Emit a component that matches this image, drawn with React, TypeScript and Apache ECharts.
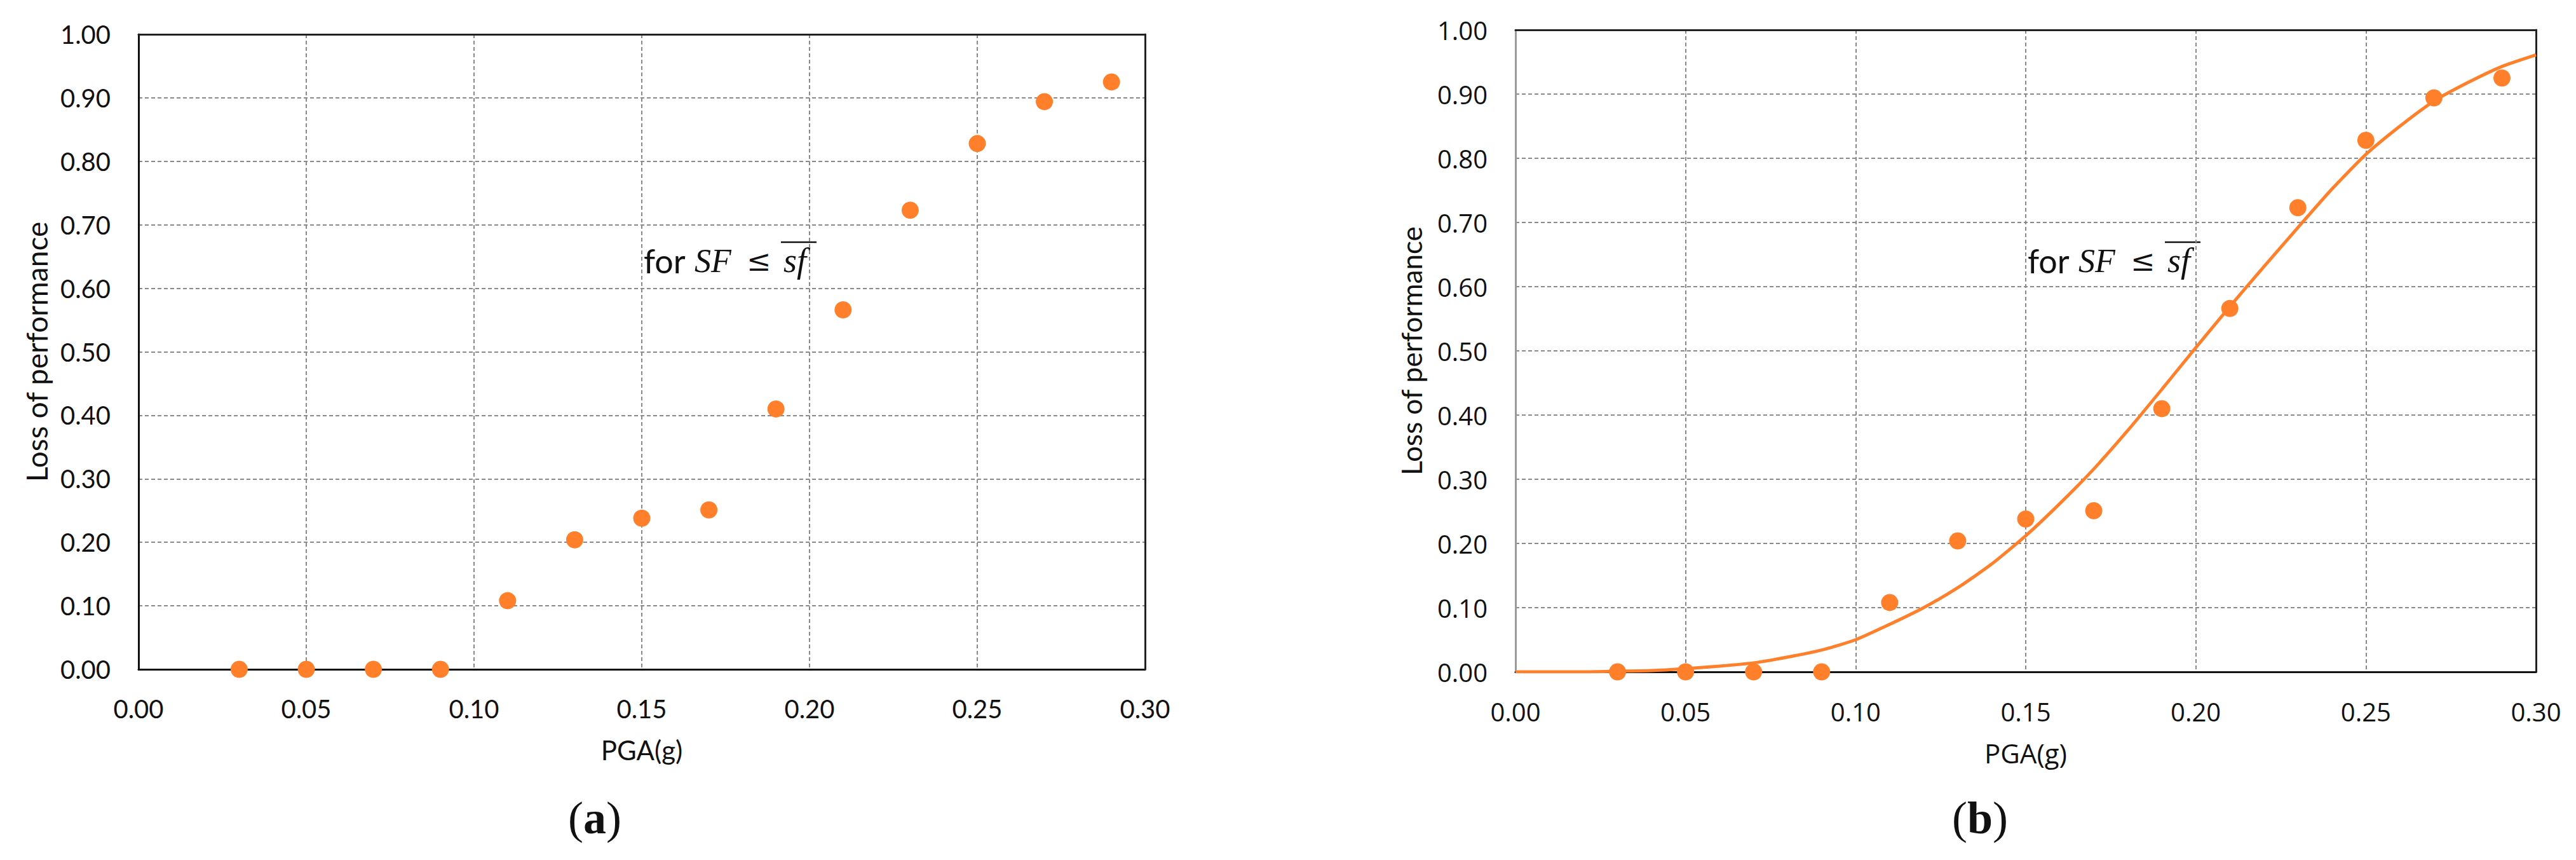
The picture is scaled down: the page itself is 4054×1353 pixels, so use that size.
import React, { useEffect, useRef } from "react";
import * as echarts from "echarts";

// Observed points (PGA in g, loss of performance)
const pga = [0.03, 0.05, 0.07, 0.09, 0.11, 0.13, 0.15, 0.17, 0.19, 0.21, 0.23, 0.25, 0.27, 0.29];
const lossOfPerformance = [0, 0, 0, 0, 0.108, 0.204, 0.238, 0.251, 0.41, 0.566, 0.723, 0.828, 0.894, 0.925];

// Fitted curve in panel (b)
const fitPga = [0, 0.01, 0.02, 0.03, 0.04, 0.05, 0.06, 0.07, 0.08, 0.09, 0.1, 0.11, 0.12, 0.13, 0.14, 0.15, 0.16, 0.17, 0.18, 0.19, 0.2, 0.21, 0.22, 0.23, 0.24, 0.25, 0.26, 0.27, 0.28, 0.29, 0.3];
const fitLoss = [0, 0, 0, 0.001, 0.002, 0.005, 0.009, 0.014, 0.023, 0.034, 0.05, 0.074, 0.1, 0.131, 0.168, 0.212, 0.262, 0.316, 0.376, 0.44, 0.505, 0.569, 0.631, 0.692, 0.752, 0.806, 0.85, 0.889, 0.918, 0.943, 0.961];

const xTickLabels = ["0.00", "0.05", "0.10", "0.15", "0.20", "0.25", "0.30"];
const yTickLabels = ["0.00", "0.10", "0.20", "0.30", "0.40", "0.50", "0.60", "0.70", "0.80", "0.90", "1.00"];

const ORANGE = "#FF7F2A";
const TXT = "#111111";

function xLabel(v: number) {
  return xTickLabels[Math.round(v / 0.05)] ?? "";
}
function yLabel(v: number) {
  return yTickLabels[Math.round(v * 10)] ?? "";
}

function mainX(gridIndex: number, font: string, nameFont: string, lineColor: string) {
  return {
    gridIndex,
    type: "value",
    min: 0,
    max: 0.3,
    interval: 0.05,
    name: "PGA(g)",
    nameLocation: "middle",
    nameGap: 106,
    nameTextStyle: { fontFamily: nameFont, fontSize: 42, color: TXT },
    axisLine: { show: true, onZero: false, lineStyle: { color: lineColor, width: 3 } },
    axisTick: { show: false },
    axisLabel: { fontFamily: font, fontSize: 40, color: TXT, margin: 42, formatter: xLabel },
    splitLine: { show: true, lineStyle: { color: "#8a8a8a", width: 2, type: [6, 4] } },
  };
}

function mainY(gridIndex: number, font: string, nameFont: string, nameSize: number, nameGap: number, lineColor: string) {
  return {
    gridIndex,
    type: "value",
    min: 0,
    max: 1,
    interval: 0.1,
    name: "Loss of performance",
    nameLocation: "middle",
    nameRotate: 90,
    nameGap,
    nameTextStyle: { fontFamily: nameFont, fontSize: nameSize, color: TXT },
    axisLine: { show: true, onZero: false, lineStyle: { color: lineColor, width: 3 } },
    axisTick: { show: false },
    axisLabel: { fontFamily: font, fontSize: 40, color: TXT, margin: 44, formatter: yLabel },
    splitLine: { show: true, lineStyle: { color: "#8a8a8a", width: 2, type: [6, 4] } },
  };
}

function borderX(gridIndex: number) {
  return {
    gridIndex,
    type: "value",
    position: "top",
    min: 0,
    max: 0.3,
    z: 1,
    axisLine: { show: true, onZero: false, lineStyle: { color: "#222", width: 3 } },
    axisTick: { show: false },
    axisLabel: { show: false },
    splitLine: { show: false },
  };
}

function borderY(gridIndex: number) {
  return {
    gridIndex,
    type: "value",
    position: "right",
    min: 0,
    max: 1,
    z: 1,
    axisLine: { show: true, onZero: false, lineStyle: { color: "#222", width: 3 } },
    axisTick: { show: false },
    axisLabel: { show: false },
    splitLine: { show: false },
  };
}

function annotation(x0: number) {
  const y = 410;
  return {
    type: "group",
    children: [
      { type: "text", x: x0, y, style: { text: "for", font: "52px Lato", fill: TXT, textVerticalAlign: "middle" } },
      { type: "text", x: x0 + 80, y, style: { text: "SF", font: "italic 52px 'Liberation Serif'", fill: TXT, textVerticalAlign: "middle" } },
      { type: "text", x: x0 + 162, y, style: { text: "≤", font: "46px 'DejaVu Serif'", fill: TXT, textVerticalAlign: "middle" } },
      { type: "text", x: x0 + 220, y, style: { text: "sf", font: "italic 54px 'Liberation Serif'", fill: TXT, textVerticalAlign: "middle" } },
      { type: "line", shape: { x1: x0 + 216, y1: 381, x2: x0 + 272, y2: 381 }, style: { stroke: TXT, lineWidth: 2.5 } },
    ],
  };
}

function panelLabel(letter: string, cx: number) {
  return {
    type: "text",
    x: cx,
    y: 1287,
    style: {
      text: `{p|(}{b|${letter}}{p|)}`,
      textAlign: "center",
      textVerticalAlign: "middle",
      rich: {
        p: { fontFamily: "Liberation Serif", fontSize: 72, fill: TXT, color: TXT },
        b: { fontFamily: "Liberation Serif", fontSize: 72, fontWeight: "bold", fill: TXT, color: TXT },
      },
    },
  };
}

export default function App() {
  const ref = useRef<HTMLDivElement>(null);

  useEffect(() => {
    if (!ref.current) return;
    const chart = echarts.init(ref.current, null, { renderer: "svg" });
    const points = pga.map((x, i) => [x, lossOfPerformance[i]]);
    const fit = fitPga.map((x, i) => [x, fitLoss[i]]);

    chart.setOption({
      animation: false,
      backgroundColor: "#ffffff",
      grid: [
        { left: 218, top: 54, width: 1584, height: 999 },
        { left: 2385, top: 47, width: 1606, height: 1010 },
      ],
      xAxis: [
        mainX(0, "Lato", "Lato", "#111"),
        mainX(1, "Open Sans", "Open Sans", "#111"),
        borderX(0),
        borderX(1),
      ],
      yAxis: [
        mainY(0, "Lato", "Lato", 46, 138, "#111"),
        mainY(1, "Open Sans", "Lato", 44, 142, "#9a9a9a"),
        borderY(0),
        borderY(1),
      ],
      series: [
        {
          type: "scatter",
          xAxisIndex: 0,
          yAxisIndex: 0,
          data: points,
          symbol: "circle",
          symbolSize: 27,
          itemStyle: { color: ORANGE, opacity: 1 },
          z: 5,
        },
        {
          type: "line",
          xAxisIndex: 1,
          yAxisIndex: 1,
          data: fit,
          showSymbol: false,
          smooth: 0.2,
          lineStyle: { color: ORANGE, width: 5 },
          itemStyle: { color: ORANGE },
          z: 4,
        },
        {
          type: "scatter",
          xAxisIndex: 1,
          yAxisIndex: 1,
          data: points,
          symbol: "circle",
          symbolSize: 27,
          itemStyle: { color: ORANGE, opacity: 1 },
          z: 5,
        },
      ],
      graphic: [annotation(1013), annotation(3191), panelLabel("a", 936), panelLabel("b", 3116)],
    });

    return () => chart.dispose();
  }, []);

  return (
    <div
      ref={ref}
      style={{ position: "absolute", left: 0, top: 0, width: 4054, height: 1353, background: "#fff" }}
    />
  );
}
